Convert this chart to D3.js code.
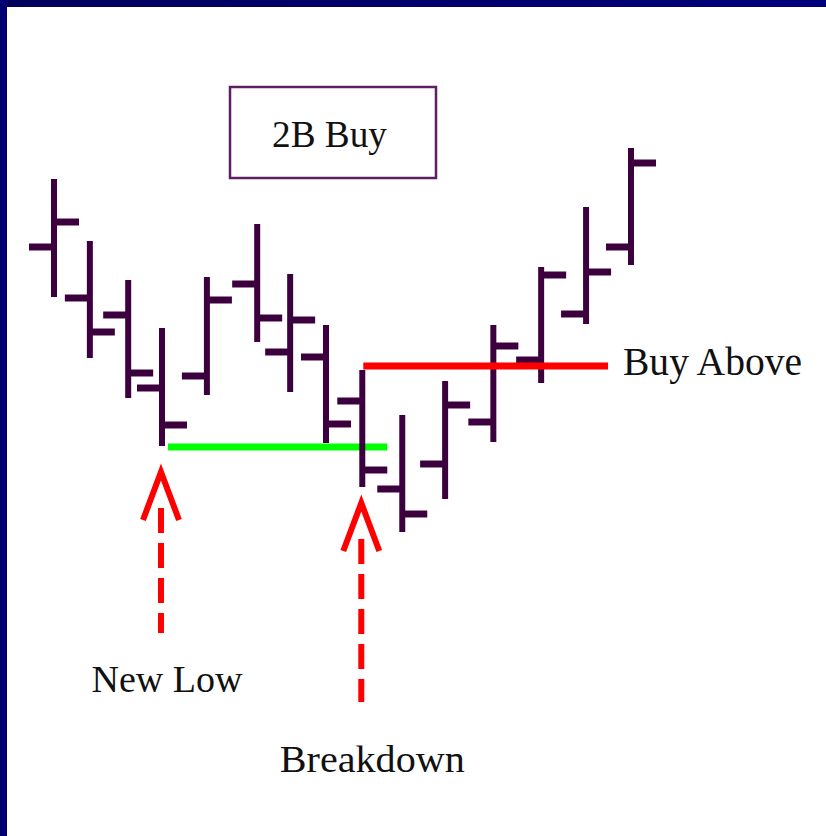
<!DOCTYPE html>
<html>
<head>
<meta charset="utf-8">
<script src="https://cdn.jsdelivr.net/npm/d3@7"></script>
<style>
  body { margin: 0; background: #fff; }
  svg { display: block; }
  .lbl { font-family: "Liberation Serif", "DejaVu Serif", serif; fill: #111; }
</style>
</head>
<body>
<div id="chart"></div>
<script>
var svgWidth = 826;
var svgHeight = 836;

// OHLC bars (day position, prices)
var days   = [0, 0.87, 1.8, 2.62, 3.71, 4.93, 5.73, 6.6, 7.48, 8.45, 9.49, 10.66, 11.82, 12.91, 14];
var highs  = [46.1, 39.9, 36.0, 31.2, 36.3, 41.6, 36.6, 31.5, 27.0, 22.5, 25.9, 31.5, 37.3, 43.3, 49.2];
var lows   = [34.3, 28.2, 24.2, 19.4, 24.5, 29.8, 24.8, 19.7, 15.3, 10.8, 14.1, 19.8, 25.7, 31.6, 37.5];
var opens  = [39.3, 34.2, 32.5, 25.2, 26.4, 35.6, 28.8, 28.3, 23.9, 15.1, 17.6, 21.8, 28.0, 32.6, 39.3];
var closes = [41.8, 30.8, 26.7, 21.5, 34.0, 32.2, 32.0, 21.6, 17.0, 12.6, 23.5, 29.4, 36.5, 36.8, 47.7];

// key levels
var supportLevel = 19.3;   // prior low (green)
var buyLevel = 27.4;       // buy above (red)

// arrows: which bar, tip price, tail price
var arrowBars  = [3, 8];
var arrowTips  = [16.8, 13.7];
var arrowTails = [0.7, -6.2];
var arrowLabels = ["New Low", "Breakdown"];
var arrowLabelPrices = [-5.2, -13.2];

var title = "2B Buy";
var buyLabel = "Buy Above";

var barColor = "#3d003f";
var tickLen = 25;

var svg = d3.select("#chart")
    .append("svg")
    .attr("width", svgWidth)
    .attr("height", svgHeight);

var defs = svg.append("defs");
var grad = defs.append("linearGradient").attr("id", "navy");
grad.append("stop").attr("offset", "0%").attr("stop-color", "#00005c");
grad.append("stop").attr("offset", "100%").attr("stop-color", "#00007c");

svg.append("rect").attr("width", svgWidth).attr("height", svgHeight).attr("fill", "#fff");

// frame on top and left
svg.append("rect").attr("x", 0).attr("y", 0).attr("width", svgWidth).attr("height", 7).attr("fill", "url(#navy)");
svg.append("rect").attr("x", 0).attr("y", 0).attr("width", 7).attr("height", svgHeight).attr("fill", "#000070");

var x = d3.scaleLinear().domain([0, 14]).range([54, 631]);
var y = d3.scaleLinear().domain([10, 50]).range([540, 140]);

var bars = days.map(function (d, i) {
    return { day: d, high: highs[i], low: lows[i], open: opens[i], close: closes[i] };
});

// title box
var box = svg.append("g");
box.append("rect")
    .attr("x", 230).attr("y", 87)
    .attr("width", 206).attr("height", 91)
    .attr("fill", "#fff")
    .attr("stroke", "#5e1f62")
    .attr("stroke-width", 2.5);
box.append("text")
    .attr("class", "lbl")
    .attr("x", 272).attr("y", 147)
    .attr("font-size", 38)
    .attr("textLength", 115)
    .attr("lengthAdjust", "spacingAndGlyphs")
    .text(title);

// support line
svg.append("line")
    .attr("x1", x(days[3]) + 6).attr("x2", x(days[8]) + tickLen)
    .attr("y1", y(supportLevel)).attr("y2", y(supportLevel))
    .attr("stroke", "#00ff00")
    .attr("stroke-width", 7);

var barG = svg.append("g").attr("stroke", barColor).attr("stroke-width", 6);

barG.selectAll(".hl")
    .data(bars)
    .enter()
    .append("line")
    .attr("class", "hl")
    .attr("x1", d => x(d.day)).attr("x2", d => x(d.day))
    .attr("y1", d => y(d.high)).attr("y2", d => y(d.low));

barG.selectAll(".op")
    .data(bars)
    .enter()
    .append("line")
    .attr("class", "op")
    .attr("x1", d => x(d.day) - tickLen).attr("x2", d => x(d.day))
    .attr("y1", d => y(d.open)).attr("y2", d => y(d.open))
    .attr("stroke-width", 7);

barG.selectAll(".cl")
    .data(bars)
    .enter()
    .append("line")
    .attr("class", "cl")
    .attr("x1", d => x(d.day)).attr("x2", d => x(d.day) + tickLen)
    .attr("y1", d => y(d.close)).attr("y2", d => y(d.close))
    .attr("stroke-width", 7);

// buy above line
svg.append("line")
    .attr("x1", x(days[8]) + 1).attr("x2", x(days[13]) + 22)
    .attr("y1", y(buyLevel)).attr("y2", y(buyLevel))
    .attr("stroke", "#ff0000")
    .attr("stroke-width", 7);

svg.append("text")
    .attr("class", "lbl")
    .attr("x", 623).attr("y", 375)
    .attr("font-size", 39)
    .attr("textLength", 179)
    .attr("lengthAdjust", "spacingAndGlyphs")
    .text(buyLabel);

// arrows
var labelWidths = [151, 185];
arrowBars.forEach(function (b, i) {
    var ax = x(days[b]) - 1;
    var tip = y(arrowTips[i]);
    svg.append("path")
        .attr("d", `M${ax - 18},${tip + 48} L${ax},${tip} L${ax + 18},${tip + 48}`)
        .attr("fill", "none")
        .attr("stroke", "#ff0000")
        .attr("stroke-width", 6)
        .attr("stroke-linejoin", "miter");
    svg.append("line")
        .attr("x1", ax).attr("x2", ax)
        .attr("y1", tip + 36).attr("y2", y(arrowTails[i]))
        .attr("stroke", "#ff0000")
        .attr("stroke-width", 6)
        .attr("stroke-dasharray", "25,10");
    svg.append("text")
        .attr("class", "lbl")
        .attr("x", ax + 6 - labelWidths[i] / 2 + (i === 1 ? 5 : 0))
        .attr("y", y(arrowLabelPrices[i]))
        .attr("font-size", 38)
        .attr("textLength", labelWidths[i])
        .attr("lengthAdjust", "spacingAndGlyphs")
        .text(arrowLabels[i]);
});
</script>
</body>
</html>
